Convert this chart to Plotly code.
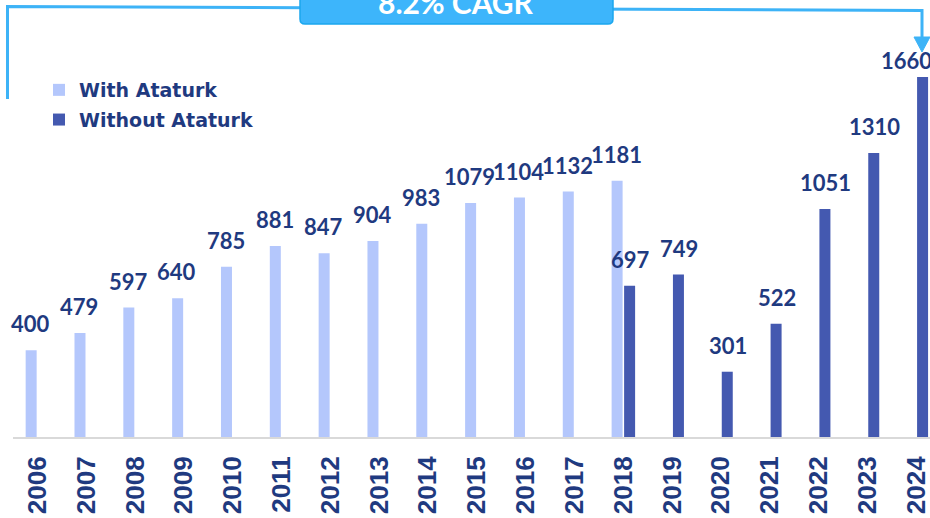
import plotly.graph_objects as go

# ---- data ----
years = [str(y) for y in range(2006, 2025)]
with_years = [str(y) for y in range(2006, 2019)]
with_values = [400, 479, 597, 640, 785, 881, 847, 904, 983, 1079, 1104, 1132, 1181]
without_years = [str(y) for y in range(2018, 2025)]
without_values = [697, 749, 301, 522, 1051, 1310, 1660]
series_names = ["With Ataturk", "Without Ataturk"]
cagr_label = "8.2% CAGR"

# ---- style ----
W, H = 930, 518
ML, MR, MT, MB = 13, 0, 0, 81
PW, PH = W - ML - MR, H - MT - MB
LIGHT = "#b4c7fc"
DARK = "#4459b0"
NAVY = "#1f3a80"
CYAN = "#3db3f7"


def px2x(px):
    return (px - ML) / PW


def py2y(py):
    return 1 - (py - MT) / PH


fig = go.Figure()
fig.add_trace(go.Bar(x=with_years, y=with_values, name=series_names[0],
                     marker=dict(color=LIGHT, line=dict(width=0)),
                     legendgroup="a"))
fig.add_trace(go.Bar(x=without_years, y=without_values, name=series_names[1],
                     marker=dict(color=DARK, line=dict(width=0)),
                     legendgroup="b"))

annotations = []
label_font = dict(family="Lato", size=22, color=NAVY, weight="bold")
for yr, v in zip(with_years, with_values):
    annotations.append(dict(x=years.index(yr), y=v, xref="x", yref="y", text=str(v),
                            showarrow=False, xshift=-7, yshift=11,
                            yanchor="bottom", font=label_font))
for i, (yr, v) in enumerate(zip(without_years, without_values)):
    last = i == len(without_values) - 1
    annotations.append(dict(x=years.index(yr), y=v, xref="x", yref="y", text=str(v),
                            showarrow=False,
                            xshift=-10 if last else 7,
                            yshift=1 if last else 11,
                            yanchor="bottom", font=label_font))

annotations.append(dict(x=px2x(456), y=py2y(2), xref="paper", yref="paper",
                        text=cagr_label, showarrow=False, xanchor="center",
                        yanchor="middle",
                        font=dict(family="Lato", size=30, color="white", weight="bold")))


def pth(points, close=False):
    s = ""
    for cmd, pts in points:
        s += cmd + " ".join(f"{px2x(a):.5f},{py2y(b):.5f}" for a, b in pts) + " "
    if close:
        s += "Z"
    return s


shapes = [
    dict(type="path", xref="paper", yref="paper",
         path=pth([("M", [(7.5, 99)]), ("L", [(7.5, 6.5)]), ("L", [(922, 10.5)]),
                   ("L", [(922, 40)])]),
         line=dict(color=CYAN, width=3), layer="above"),
    dict(type="path", xref="paper", yref="paper",
         path=pth([("M", [(914, 37)]), ("L", [(930, 37)]), ("L", [(922, 52)])], close=True),
         fillcolor=CYAN, line=dict(color=CYAN, width=1), layer="above"),
    dict(type="path", xref="paper", yref="paper",
         path=pth([("M", [(300, -20)]), ("L", [(300, 19)]), ("Q", [(300, 24), (305, 24)]),
                   ("L", [(608, 24)]), ("Q", [(613, 24), (613, 19)]), ("L", [(613, -20)])],
                  close=True),
         fillcolor="#3db5fb", line=dict(color="#1ba7ee", width=1.5), layer="above"),
]

fig.update_layout(
    width=W, height=H,
    margin=dict(l=ML, r=MR, t=MT, b=MB, pad=0),
    paper_bgcolor="white", plot_bgcolor="white",
    barmode="group", bargap=0.488, bargroupgap=0.12,
    showlegend=True,
    legend=dict(x=px2x(39), y=py2y(71), xanchor="left", yanchor="top",
                font=dict(family="DejaVu Sans", size=19, color=NAVY, weight="bold"),
                bgcolor="rgba(0,0,0,0)", traceorder="grouped", tracegroupgap=2,
                itemclick=False),
    annotations=annotations,
    shapes=shapes,
    xaxis=dict(type="category", categoryorder="array", categoryarray=years,
               range=[-0.5, 18.28], showline=True, linecolor="#d9d9d9", linewidth=2,
               showgrid=False, zeroline=False, ticks="", tickangle=-90,
               ticklabelstandoff=7,
               tickfont=dict(family="Liberation Sans", size=26, color=NAVY, weight="bold")),
    yaxis=dict(range=[0, 2015], showgrid=False, zeroline=False, showticklabels=False,
               showline=False, ticks=""),
)

fig.write_html("out.html", config={"displayModeBar": False},
               post_script="document.body.style.margin='0';document.body.style.overflow='hidden';")
